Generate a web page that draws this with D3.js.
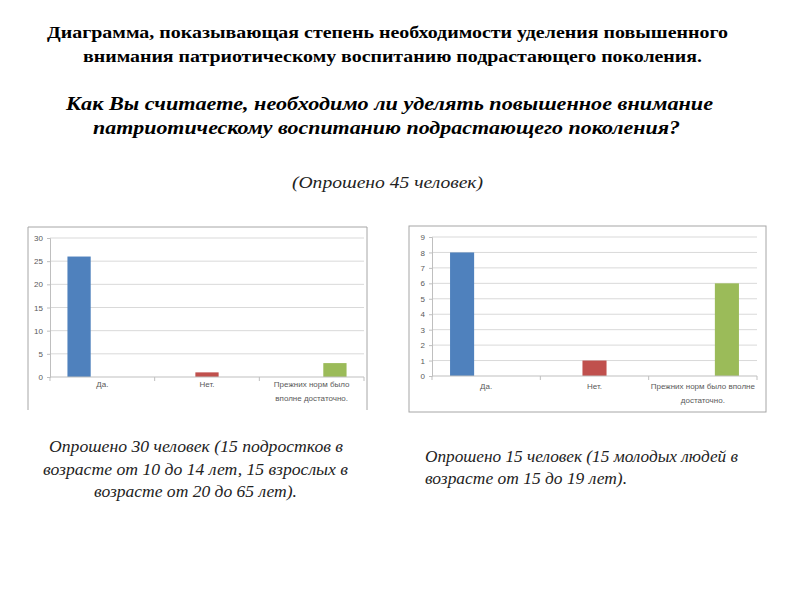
<!DOCTYPE html>
<html>
<head>
<meta charset="utf-8">
<script src="https://cdn.jsdelivr.net/npm/d3@7"></script>
<style>
  body { margin: 0; background: #fff; }
</style>
</head>
<body>
<svg width="800" height="600"></svg>
<script>
// answers (categories) and counts for each group of respondents
const categories = ['Да.', 'Нет.', 'Прежних норм было вполне достаточно.']
const valuesAdults = [26, 1, 3]   // 30 человек (подростки + взрослые)
const valuesYouth = [8, 1, 6]     // 15 молодых людей
const ticksAdults = [0, 5, 10, 15, 20, 25, 30]
const ticksYouth = [0, 1, 2, 3, 4, 5, 6, 7, 8, 9]
const labelsAdults = [['Да.'], ['Нет.'], ['Прежних норм было', 'вполне достаточно.']]
const labelsYouth = [['Да.'], ['Нет.'], ['Прежних норм было вполне', 'достаточно.']]

const colors = ['#4F81BD', '#C0504D', '#9BBB59']

const svg = d3.select('svg')

// text blocks: [text, x, baseline, width]
function textBlock(lines, font) {
    lines.forEach(function (l) {
        svg.append('text')
            .attr('x', l[1])
            .attr('y', l[2])
            .attr('textLength', l[3])
            .attr('lengthAdjust', 'spacingAndGlyphs')
            .attr('font-family', '"Liberation Serif", serif')
            .attr('font-size', font.size)
            .attr('font-weight', font.weight || 'normal')
            .attr('font-style', font.style || 'normal')
            .attr('fill', font.color || '#000')
            .text(l[0])
    })
}

textBlock([
    ['Диаграмма, показывающая степень необходимости уделения повышенного', 47, 38, 681],
    ['внимания патриотическому воспитанию подрастающего поколения.', 83, 62, 619]
], { size: 17, weight: 'bold' })

textBlock([
    ['Как Вы считаете, необходимо ли уделять повышенное внимание', 66, 110, 647],
    ['патриотическому воспитанию подрастающего поколения?', 93, 134, 587]
], { size: 18, weight: 'bold', style: 'italic' })

textBlock([
    ['(Опрошено 45 человек)', 292, 188, 191]
], { size: 16, style: 'italic', color: '#222' })

textBlock([
    ['Опрошено 30 человек (15 подростков в', 49, 452, 294],
    ['возрасте от 10 до 14 лет, 15 взрослых в', 43, 475, 305],
    ['возрасте от 20 до 65 лет).', 94, 497, 203]
], { size: 16, style: 'italic', color: '#222' })

textBlock([
    ['Опрошено 15 человек (15 молодых людей в', 425, 462, 313],
    ['возрасте от 15 до 19 лет).', 425, 484, 202]
], { size: 16, style: 'italic', color: '#222' })

/**
 * Column chart in Excel style: one series per answer, so each bar
 * sits in its own slot of the category cluster
 */
function drawChart(opts) {
    var g = svg.append('g')

    // chart frame
    var f = opts.frame
    if (opts.openBottom) {
        g.append('path')
            .attr('d', 'M' + f[0] + ',' + f[3] + 'V' + f[1] + 'H' + f[2] + 'V' + f[3])
            .attr('fill', 'none')
            .attr('stroke', '#a6a6a6')
    } else {
        g.append('rect')
            .attr('x', f[0]).attr('y', f[1])
            .attr('width', f[2] - f[0]).attr('height', f[3] - f[1])
            .attr('fill', 'none')
            .attr('stroke', '#a6a6a6')
    }

    var x = d3.scaleBand()
        .domain(categories)
        .range([opts.left, opts.right])

    var slot = d3.scaleBand()
        .domain([0, 1, 2])
        .range([0, x.bandwidth()])
        .paddingInner(0)
        .paddingOuter(0.75)

    var y = d3.scaleLinear()
        .domain([0, d3.max(opts.ticks)])
        .range([opts.bottom, opts.top])

    // gridlines
    g.append('g')
        .selectAll('line')
        .data(opts.ticks.slice(1))
        .enter().append('line')
        .attr('x1', opts.left).attr('x2', opts.right)
        .attr('y1', function (d) { return y(d) })
        .attr('y2', function (d) { return y(d) })
        .attr('stroke', '#d9d9d9')

    // y axis
    var yAxis = g.append('g')
        .attr('transform', 'translate(' + opts.left + ',0)')
        .call(d3.axisLeft(y).tickValues(opts.ticks).tickSize(3).tickPadding(4))
    yAxis.selectAll('line, path').attr('stroke', '#bfbfbf')
    yAxis.selectAll('text')
        .attr('font-family', '"Liberation Sans", Arial, sans-serif')
        .attr('font-size', 8)
        .attr('fill', '#595959')

    // bars
    g.selectAll('rect.bar')
        .data(opts.values)
        .enter().append('rect')
        .attr('class', 'bar')
        .attr('x', function (d, i) { return x(categories[i]) + slot(i) })
        .attr('width', slot.bandwidth())
        .attr('y', function (d) { return y(d) })
        .attr('height', function (d) { return y(0) - y(d) })
        .attr('fill', function (d, i) { return colors[i] })

    // x axis with ticks on category boundaries
    var xAxis = g.append('g')
    xAxis.append('line')
        .attr('x1', opts.left).attr('x2', opts.right)
        .attr('y1', y(0)).attr('y2', y(0))
        .attr('stroke', '#bfbfbf')
    var bounds = categories.map(function (c) { return x(c) }).concat([opts.right])
    xAxis.selectAll('line.tick')
        .data(bounds)
        .enter().append('line')
        .attr('class', 'tick')
        .attr('x1', function (d) { return d }).attr('x2', function (d) { return d })
        .attr('y1', y(0)).attr('y2', y(0) + 4)
        .attr('stroke', '#bfbfbf')

    // category labels (wrapped like the original)
    opts.labels.forEach(function (lines, i) {
        var t = xAxis.append('text')
            .attr('x', x(categories[i]) + x.bandwidth() / 2)
            .attr('y', y(0) + opts.labelDy)
            .attr('text-anchor', 'middle')
            .attr('font-family', '"Liberation Sans", Arial, sans-serif')
            .attr('font-size', 8)
            .attr('fill', '#595959')
        lines.forEach(function (s, k) {
            t.append('tspan')
                .attr('x', x(categories[i]) + x.bandwidth() / 2)
                .attr('dy', k === 0 ? 0 : 14)
                .text(s)
        })
    })
}

drawChart({
    values: valuesAdults, ticks: ticksAdults, labels: labelsAdults,
    frame: [28, 227, 367, 410], openBottom: true,
    left: 50, right: 364, top: 238, bottom: 377, labelDy: 10
})

drawChart({
    values: valuesYouth, ticks: ticksYouth, labels: labelsYouth,
    frame: [409, 226, 766, 412], openBottom: false,
    left: 432, right: 757, top: 237, bottom: 376, labelDy: 13
})
</script>
</body>
</html>
